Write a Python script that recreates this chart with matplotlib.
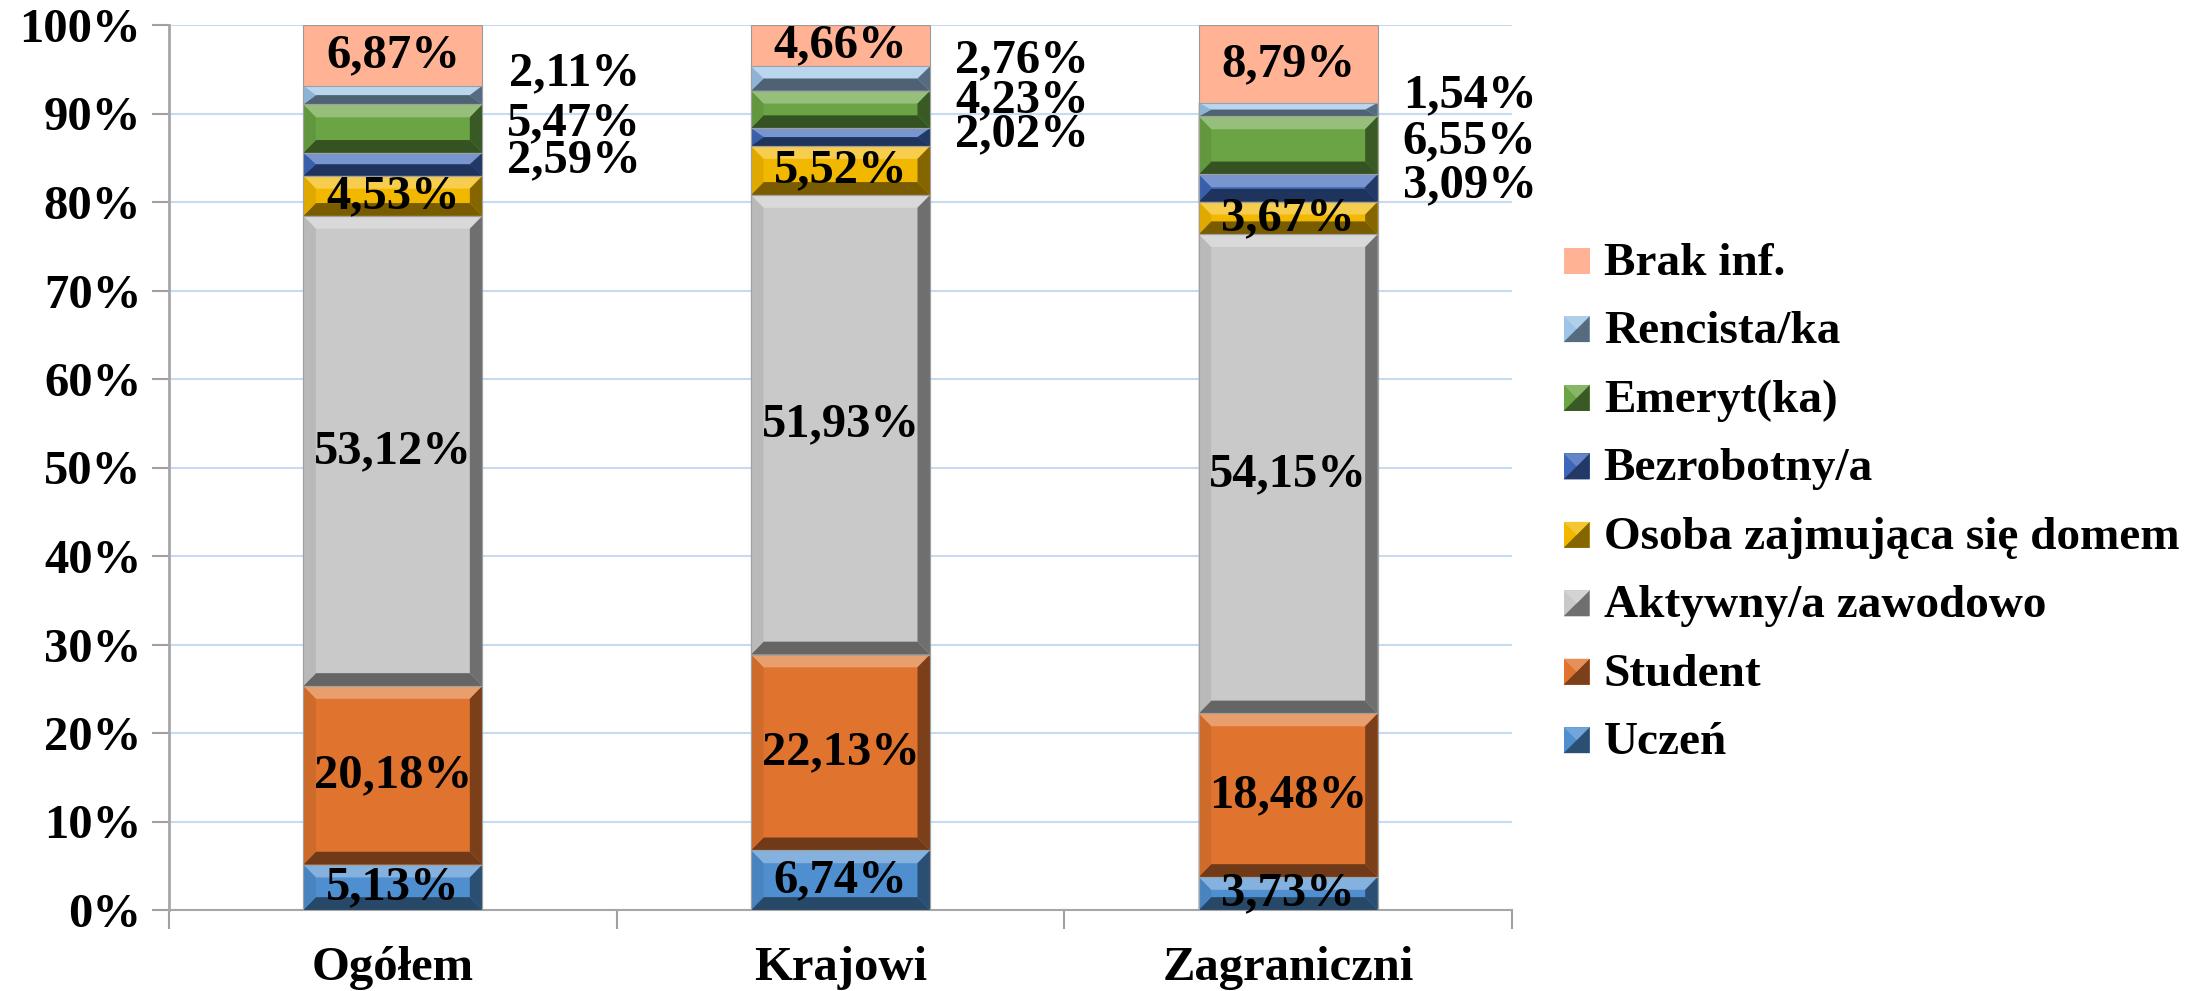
import matplotlib
matplotlib.use("Agg")
import matplotlib.pyplot as plt
from matplotlib.patches import Polygon, Rectangle
from matplotlib.legend_handler import HandlerBase
import matplotlib.colors as mcolors
import numpy as np

plt.rcParams['font.family'] = ['Liberation Serif', 'DejaVu Serif']
plt.rcParams['font.weight'] = 'bold'

categories = ["Ogółem", "Krajowi", "Zagraniczni"]
series_names = ["Uczeń", "Student", "Aktywny/a zawodowo", "Osoba zajmująca się domem",
                "Bezrobotny/a", "Emeryt(ka)", "Rencista/ka", "Brak inf."]
uczen = [5.13, 6.74, 3.73]
student = [20.18, 22.13, 18.48]
aktywny = [53.12, 51.93, 54.15]
osoba = [4.53, 5.52, 3.67]
bezrobotny = [2.59, 2.02, 3.09]
emeryt = [5.47, 4.23, 6.55]
rencista = [2.11, 2.76, 1.54]
brak = [6.87, 4.66, 8.79]
series_values = [uczen, student, aktywny, osoba, bezrobotny, emeryt, rencista, brak]
yticks = [0, 10, 20, 30, 40, 50, 60, 70, 80, 90, 100]

face_colors = ["#4F8FCF", "#E0742F", "#C9C9C9", "#F2B800", "#3E67B9", "#6AA444", "#9DC3E6", "#FFB294"]
beveled = [True, True, True, True, True, True, True, False]
outside = [False, False, False, False, True, True, True, False]
# vertical nudges (in % units) of outside labels, per series per bar
outside_nudge = {4: [0.5, 0.3, 0.3], 5: [0.6, 1.0, 0.5], 6: [2.5, 2.1, 1.6]}

def shade(c, f):
    r = np.array(mcolors.to_rgb(c))
    if f >= 0:
        r = r + (1 - r) * f
    else:
        r = r * (1 + f)
    return tuple(np.clip(r, 0, 1))

W, H = 2206, 991
fig = plt.figure(figsize=(W / 100, H / 100), dpi=100)
ax = fig.add_axes([169 / W, 1 - 910 / H, (1512 - 169) / W, (910 - 25) / H])

x = np.arange(len(categories))
bw = 0.4
bx = 0.028
by_full = 1.45
LBL = 35

bottoms = np.zeros(len(categories))
for si, (name, vals) in enumerate(zip(series_names, series_values)):
    vals = np.array(vals)
    bars = ax.bar(x, vals, bw, bottom=bottoms, color=face_colors[si],
                  edgecolor="#9a9a9a", linewidth=0.8, label=name, zorder=3)
    if beveled[si]:
        for bi, rect in enumerate(bars):
            x0 = rect.get_x(); x1 = x0 + rect.get_width()
            y0 = rect.get_y(); y1 = y0 + rect.get_height()
            by = min(by_full, (y1 - y0) / 2)
            bxx = bx
            c = face_colors[si]
            top = Polygon([(x0, y1), (x1, y1), (x1 - bxx, y1 - by), (x0 + bxx, y1 - by)],
                          closed=True, facecolor=shade(c, 0.3), edgecolor='none', zorder=4)
            bot = Polygon([(x0, y0), (x1, y0), (x1 - bxx, y0 + by), (x0 + bxx, y0 + by)],
                          closed=True, facecolor=shade(c, -0.5), edgecolor='none', zorder=4)
            left = Polygon([(x0, y0), (x0 + bxx, y0 + by), (x0 + bxx, y1 - by), (x0, y1)],
                           closed=True, facecolor=shade(c, -0.08), edgecolor='none', zorder=4)
            right = Polygon([(x1, y0), (x1 - bxx, y0 + by), (x1 - bxx, y1 - by), (x1, y1)],
                            closed=True, facecolor=shade(c, -0.45), edgecolor='none', zorder=4)
            for p in (top, bot, left, right):
                ax.add_patch(p)
            ax.add_patch(Rectangle((x0, y0), x1 - x0, y1 - y0, fill=False,
                                   edgecolor="#a0a0a0", linewidth=0.8, zorder=5))
    for bi in range(len(categories)):
        v = vals[bi]
        txt = f"{v:.2f}%".replace(".", ",")
        mid = bottoms[bi] + v / 2
        if outside[si]:
            ax.text(x[bi] + 0.405, mid + outside_nudge[si][bi], txt, ha='center', va='center',
                    fontsize=LBL, fontweight='bold', color='black', zorder=6)
        else:
            ax.text(x[bi], mid, txt, ha='center', va='center',
                    fontsize=LBL, fontweight='bold', color='black', zorder=6)
    bottoms = bottoms + vals

ax.set_xlim(-0.5, len(categories) - 0.5)
ax.set_ylim(0, 100)
ax.set_yticks(yticks)
ax.set_yticklabels([f"{t}%" for t in yticks], fontsize=35, fontweight='bold')
ax.set_xticks(x)
ax.set_xticklabels(categories, fontsize=35, fontweight='bold')
ax.tick_params(axis='x', which='major', length=0, pad=26)
ax.set_xticks(np.arange(-0.5, len(categories), 1.0), minor=True)
ax.tick_params(axis='x', which='minor', length=14, color="#a0a0a0", width=1.5, direction='out')
ax.tick_params(axis='y', length=12, color="#a0a0a0", width=1.5, direction='out', pad=8)
ax.grid(axis='y', color="#c6dbf0", linewidth=1.5, zorder=0)
ax.set_axisbelow(True)
for s in ['top', 'right']:
    ax.spines[s].set_visible(False)
ax.spines['left'].set_color("#a6a6a6")
ax.spines['left'].set_linewidth(2)
ax.spines['bottom'].set_color("#a6a6a6")
ax.spines['bottom'].set_linewidth(1.5)


class BevelHandler(HandlerBase):
    def __init__(self, color, bevel):
        super().__init__()
        self.color = color
        self.bevel = bevel

    def create_artists(self, legend, orig_handle, xdescent, ydescent, width, height, fontsize, trans):
        s = min(width, height * 1.3)
        x0 = -xdescent + (width - s)
        y0 = -ydescent + (height - s) / 2 - 2
        arts = [Rectangle((x0, y0), s, s, facecolor=self.color, edgecolor='none', transform=trans)]
        if self.bevel:
            arts.append(Polygon([(x0, y0), (x0 + s, y0), (x0 + s, y0 + s), (x0 + s / 2, y0 + s / 2)],
                                closed=True, facecolor=shade(self.color, -0.45), edgecolor='none',
                                transform=trans))
            arts.append(Polygon([(x0, y0 + s), (x0 + s, y0 + s), (x0 + s / 2, y0 + s / 2)],
                                closed=True, facecolor=shade(self.color, 0.2), edgecolor='none',
                                transform=trans))
        return arts


handles, labels = ax.get_legend_handles_labels()
hmap = {h: BevelHandler(face_colors[i], beveled[i]) for i, h in enumerate(handles)}
leg = fig.legend(handles[::-1], labels[::-1], loc='upper left',
                 bbox_to_anchor=(1540 / W, 1 - 219 / H), frameon=False,
                 prop={'family': 'Liberation Serif', 'weight': 'bold', 'size': 34},
                 handler_map=hmap, handlelength=0.55, handleheight=0.55,
                 handletextpad=0.3, labelspacing=0.56, borderpad=0)

fig.savefig("out.png", dpi=100)
